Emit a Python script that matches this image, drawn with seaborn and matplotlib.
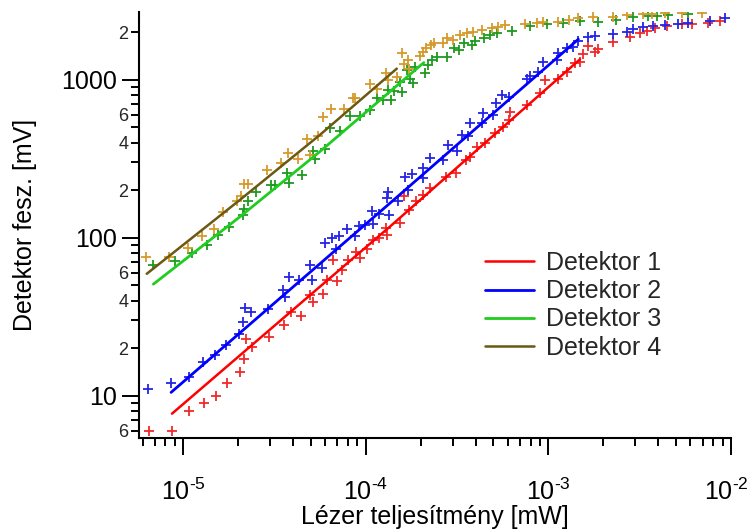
import numpy as np
import pandas as pd
import matplotlib
matplotlib.use("Agg")
import matplotlib.pyplot as plt
import matplotlib.transforms as mtransforms
import seaborn as sns
from matplotlib.ticker import FixedLocator, FixedFormatter, NullFormatter, LogLocator

# ---------------- data ----------------
labels = ["Detektor 1", "Detektor 2", "Detektor 3", "Detektor 4"]

d1_x = [6.54e-6, 8.74e-6, 1.08e-5, 1.31e-5, 1.52e-5, 1.75e-5, 2.06e-5, 2.17e-5, 2.21e-5, 2.39e-5,
        2.96e-5, 3.58e-5, 3.89e-5, 4.42e-5, 4.94e-5, 5.13e-5, 5.86e-5, 6.12e-5, 6.99e-5, 6.60e-5,
        7.39e-5, 8.03e-5, 8.85e-5, 9.31e-5, 1.02e-4, 1.10e-4, 1.19e-4, 1.29e-4, 1.31e-4, 1.55e-4,
        1.62e-4, 1.73e-4, 1.88e-4, 2.07e-4, 2.25e-4, 2.75e-4, 3.12e-4, 3.54e-4, 3.72e-4, 4.05e-4,
        4.50e-4, 5.10e-4, 5.66e-4, 6.11e-4, 6.16e-4, 7.61e-4, 9.0e-4, 9.58e-4, 1.13e-3, 1.26e-3,
        1.40e-3, 1.49e-3, 1.55e-3, 1.65e-3, 1.80e-3, 1.88e-3, 2.27e-3, 2.80e-3, 3.17e-3, 3.45e-3,
        3.83e-3, 4.44e-3, 5.37e-3, 6.08e-3, 7.50e-3, 8.69e-3]
d1_y = [6.0, 6.0, 8.0, 9.0, 10.0, 12.0, 14.1, 17.1, 22.8, 20.3,
        23.7, 28.1, 33.9, 32.2, 43.6, 39.2, 44.0, 54.2, 52.9, 72.6,
        62.7, 72.6, 81.9, 74.4, 84.8, 97.1, 99.6, 115, 104, 125,
        185, 150, 170, 187, 206, 244, 259, 312, 327, 378,
        397, 460, 506, 558, 630, 695, 824, 1000, 1010, 1129,
        1276, 1305, 1461, 1641, 1510, 1564, 1747, 1879, 1993, 2051,
        2124, 2197, 2262, 2262, 2305, 2373]

d2_x = [6.46e-6, 8.6e-6, 1.08e-5, 1.28e-5, 1.50e-5, 1.71e-5, 2.03e-5, 2.14e-5, 2.18e-5, 2.35e-5,
        2.93e-5, 3.51e-5, 3.62e-5, 3.82e-5, 4.33e-5, 4.94e-5, 5.06e-5, 5.79e-5, 6.01e-5, 6.56e-5,
        7.17e-5, 6.90e-5, 7.93e-5, 8.77e-5, 9.23e-5, 9.95e-5, 1.10e-4, 1.08e-4, 1.18e-4, 1.30e-4,
        1.33e-4, 1.34e-4, 1.51e-4, 1.64e-4, 1.79e-4, 1.71e-4, 2.07e-4, 2.05e-4, 2.25e-4, 2.66e-4,
        2.83e-4, 3.17e-4, 3.35e-4, 3.64e-4, 3.72e-4, 4.31e-4, 4.40e-4, 4.99e-4, 5.17e-4, 5.55e-4,
        6.11e-4, 7.61e-4, 7.90e-4, 8.81e-4, 9.38e-4, 1.11e-3, 1.13e-3, 1.26e-3, 1.36e-3, 1.46e-3,
        1.65e-3, 1.80e-3, 2.27e-3, 2.68e-3, 2.91e-3, 3.31e-3, 3.75e-3, 4.35e-3, 5.14e-3, 5.83e-3,
        7.66e-3, 9.26e-3]
d2_y = [11.1, 12.1, 13.1, 16.3, 18.2, 21.0, 24.7, 29.1, 35.9, 33.7,
        35.5, 46.4, 42.1, 56.1, 53.7, 67.5, 53.7, 64.3, 92.6, 100,
        103, 84.8, 114, 103, 118, 121, 123, 147, 141, 178,
        194, 140, 170, 244, 254, 201, 276, 239, 319, 312,
        388, 357, 449, 442, 532, 532, 621, 600, 718, 804,
        784, 1010, 1060, 1129, 1305, 1339, 1476, 1587, 1611, 1773,
        1863, 1898, 1954, 2021, 2094, 2175, 2197, 2229, 2262, 2305,
        2362, 2458]

d3_x = [6.82e-6, 9.04e-6, 1.12e-5, 1.35e-5, 1.56e-5, 1.79e-5, 2.14e-5, 2.15e-5, 2.28e-5, 2.50e-5,
        3.02e-5, 3.19e-5, 3.69e-5, 3.80e-5, 4.50e-5, 5.13e-5, 5.28e-5, 5.99e-5, 6.38e-5, 7.23e-5,
        8.20e-5, 9.31e-5, 1.06e-4, 1.15e-4, 1.24e-4, 1.32e-4, 1.37e-4, 1.42e-4, 1.58e-4, 1.54e-4,
        1.68e-4, 1.75e-4, 1.82e-4, 1.86e-4, 2.11e-4, 2.20e-4, 2.30e-4, 2.45e-4, 2.78e-4, 3.05e-4,
        3.25e-4, 3.47e-4, 3.80e-4, 3.96e-4, 4.46e-4, 4.79e-4, 5.21e-4, 6.30e-4, 7.93e-4, 9.79e-4,
        1.21e-3, 1.49e-3, 1.88e-3, 2.36e-3, 2.91e-3, 3.52e-3, 3.92e-3, 4.53e-3, 5.83e-3]
d3_y = [67.5, 71.8, 80.7, 90.3, 104, 117, 140, 152, 172, 194,
        216, 216, 259, 224, 250, 357, 315, 364, 495, 476,
        592, 592, 646, 766, 747, 864, 747, 856, 843, 975,
        1157, 1010, 953, 1214, 1102, 1245, 1339, 1405, 1392, 1587,
        1548, 1722, 1665, 1773, 1836, 1927, 1993, 2051, 2197, 2262,
        2305, 2362, 2339, 2398, 2516, 2553, 2542, 2579, 2617]

d4_x = [6.27e-6, 8.41e-6, 1.07e-5, 1.27e-5, 1.47e-5, 1.66e-5, 1.97e-5, 2.07e-5, 2.17e-5, 2.28e-5,
        2.87e-5, 3.44e-5, 3.74e-5, 4.28e-5, 4.79e-5, 4.96e-5, 5.50e-5, 5.86e-5, 6.46e-5, 7.64e-5,
        8.49e-5, 8.74e-5, 1.06e-4, 1.16e-4, 1.29e-4, 1.33e-4, 1.48e-4, 1.59e-4, 1.62e-4, 1.71e-4,
        1.73e-4, 1.98e-4, 2.05e-4, 2.14e-4, 2.28e-4, 2.36e-4, 2.66e-4, 2.78e-4, 3.02e-4, 3.28e-4,
        3.57e-4, 3.88e-4, 4.31e-4, 4.89e-4, 5.32e-4, 5.79e-4, 7.45e-4, 8.63e-4, 9.38e-4, 1.13e-3,
        1.29e-3, 1.46e-3, 1.76e-3, 2.27e-3, 2.68e-3, 3.31e-3, 3.68e-3, 4.35e-3, 5.37e-3, 6.90e-3]
d4_y = [75.5, 75.5, 86.1, 103, 114, 145, 170, 183, 220, 220,
        267, 297, 344, 316, 421, 335, 442, 581, 653, 653,
        766, 766, 944, 873, 1112, 1000, 1049, 1489, 1263, 1339,
        1169, 1419, 1510, 1587, 1665, 1707, 1722, 1836, 1792, 1927,
        1975, 2021, 2073, 2124, 2175, 2229, 2262, 2285, 2319, 2339,
        2398, 2458, 2494, 2516, 2579, 2617, 2617, 2640, 2650, 2660]

# fitted curves
fit1_x = [8.7e-6, 1.36e-4, 1.49e-3]
fit1_y = [7.7, 118, 1350]
fit2_x = [8.6e-6, 1.36e-4, 1.46e-3]
fit2_y = [10.5, 166, 1810]
fit3_x = [6.88e-6, 2.05e-5, 5.62e-5, 2.08e-4]
fit3_y = [50.9, 136, 352, 1287]
fit4_x = [6.33e-6, 2.05e-5, 5.62e-5, 1.48e-4]
fit4_y = [59.2, 174, 449, 1179]

marker_colors = ["#f02a2a", "#2424e6", "#1f991f", "#d59a2c"]
line_colors = ["#ff0000", "#0000ff", "#1fcc1f", "#6b5812"]

y_major = [10, 100, 1000]
y_major_labels = ["10", "100", "1000"]
y_minor_labeled = [6, 20, 40, 60, 200, 400, 600, 2000]
y_minor_text = ["6", "2", "4", "6", "2", "4", "6", "2"]
x_major = [1e-5, 1e-4, 1e-3, 1e-2]
x_major_labels = [r"$10^{\text{-5}}$", r"$10^{\text{-4}}$", r"$10^{\text{-3}}$", r"$10^{\text{-2}}$"]

# ---------------- style ----------------
sns.set_style("ticks")
plt.rcParams["font.family"] = ["Liberation Sans", "DejaVu Sans"]
plt.rcParams["mathtext.fontset"] = "custom"
plt.rcParams["mathtext.rm"] = "Liberation Sans"
plt.rcParams["mathtext.it"] = "Liberation Sans:italic"
plt.rcParams["mathtext.bf"] = "Liberation Sans:bold"
plt.rcParams["mathtext.default"] = "regular"

fig = plt.figure(figsize=(7.5, 5.29), dpi=100)
ax = fig.add_axes([139 / 750, 1 - 438 / 529, (731 - 139) / 750, (438 - 12) / 529])

pts = pd.concat([
    pd.DataFrame({"x": xs, "y": ys, "det": lab})
    for xs, ys, lab in [(d3_x, d3_y, labels[2]), (d4_x, d4_y, labels[3]),
                        (d1_x, d1_y, labels[0]), (d2_x, d2_y, labels[1])]
], ignore_index=True)
fits = [(fit1_x, fit1_y), (fit2_x, fit2_y), (fit3_x, fit3_y), (fit4_x, fit4_y)]

for lab in [labels[2], labels[3], labels[0], labels[1]]:
    i = labels.index(lab)
    sub = pts[pts["det"] == lab]
    sns.scatterplot(data=sub, x="x", y="y", marker="+", s=62, linewidth=1.3,
                    color=marker_colors[i], ax=ax, legend=False, zorder=1)

lws = [1.8, 2.0, 2.0, 1.8]
for i, (fx, fy) in enumerate(fits):
    sns.lineplot(x=fx, y=fy, sort=False, estimator=None, color=line_colors[i],
                 linewidth=lws[i], ax=ax, label=labels[i], zorder=3)

ax.set_xscale("log")
ax.set_yscale("log")
ax.set_xlim(5.74e-6, 1e-2)
ax.set_ylim(5.4, 2692)

ax.xaxis.set_major_locator(FixedLocator(x_major))
ax.xaxis.set_major_formatter(FixedFormatter(x_major_labels))
ax.xaxis.set_minor_locator(LogLocator(base=10, subs=np.arange(2, 10)))
ax.xaxis.set_minor_formatter(NullFormatter())

ax.yaxis.set_major_locator(FixedLocator(y_major))
ax.yaxis.set_major_formatter(FixedFormatter(y_major_labels))
y_minor_all = [m * 10 ** e for e in range(0, 4) for m in range(2, 10)]
y_minor_all = [v for v in y_minor_all if 5.4 <= v <= 2692]
minor_text = []
for v in y_minor_all:
    hit = [t for lv, t in zip(y_minor_labeled, y_minor_text) if abs(lv - v) < 1e-6 * v]
    minor_text.append(hit[0] if hit else "")
ax.yaxis.set_minor_locator(FixedLocator(y_minor_all))
ax.yaxis.set_minor_formatter(FixedFormatter(minor_text))

ax.tick_params(which="major", length=12.5, width=1.4, direction="out", color="black",
               labelsize=18, labelcolor="black")
ax.tick_params(which="minor", length=6, width=1.4, direction="out", color="black")
ax.tick_params(axis="y", which="major", pad=3)
ax.tick_params(axis="y", which="minor", pad=1.5, labelsize=13)
ax.tick_params(axis="x", which="major", pad=17)

for side in ["top", "right"]:
    ax.spines[side].set_visible(False)
for side in ["left", "bottom"]:
    ax.spines[side].set_linewidth(1.5)
    ax.spines[side].set_color("black")

ax.set_xlabel("Lézer teljesítmény [mW]", fontsize=18, labelpad=-0.5, color="black")
ax.set_ylabel("Detektor fesz. [mV]", fontsize=18, labelpad=18, color="black")

ax.legend(loc="upper left", bbox_to_anchor=(485 / 750, 1 - 251 / 529),
          bbox_transform=fig.transFigure, frameon=False, fontsize=18,
          handlelength=1.95, handletextpad=0.5, labelspacing=0.17,
          borderpad=0, borderaxespad=0)

# keep the last x tick label inside the canvas
fig.canvas.draw()
last = ax.xaxis.get_major_ticks()[-1].label1
last.set_transform(last.get_transform() +
                   mtransforms.ScaledTranslation(-3 / 72, 0, fig.dpi_scale_trans))

fig.savefig("out.png", dpi=100)
